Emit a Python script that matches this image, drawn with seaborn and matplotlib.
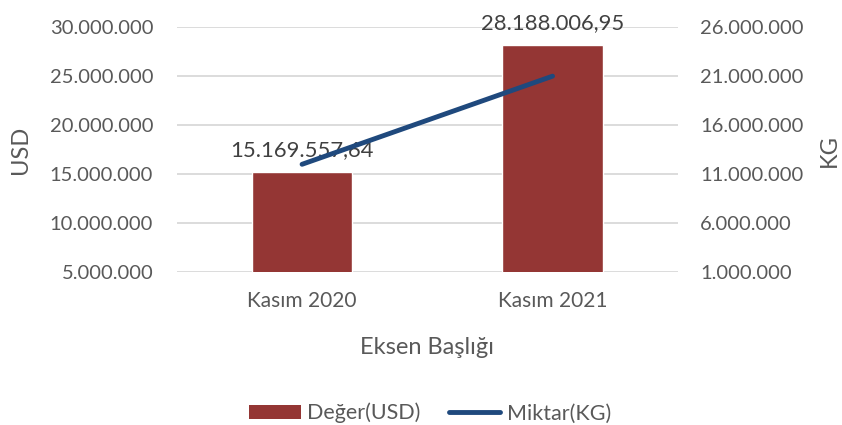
import numpy as np
import pandas as pd
import matplotlib
matplotlib.use("Agg")
import matplotlib.pyplot as plt
import seaborn as sns
from matplotlib.ticker import FuncFormatter
from matplotlib.patches import Patch
from matplotlib.lines import Line2D

# --- Data ---
categories = ['Kasım 2020', 'Kasım 2021']
usd_values = [15169557.64, 28188006.95]
kg_values = [12000000, 21000000]
usd_labels = ['15.169.557,64', '28.188.006,95']
usd_ticks = [5000000, 10000000, 15000000, 20000000, 25000000, 30000000]
kg_ticks = [1000000, 6000000, 11000000, 16000000, 21000000, 26000000]

BAR_COLOR = '#943634'
LINE_COLOR = '#1F497D'
TEXT_COLOR = '#595959'
GRID_COLOR = '#D9D9D9'

sns.set_theme(style='white')
plt.rcParams['font.family'] = ['Lato', 'DejaVu Sans']


def tr_fmt(v, pos=None):
    return f"{v:,.0f}".replace(',', '.')


df = pd.DataFrame({'Ay': categories, 'USD': usd_values, 'KG': kg_values})

fig = plt.figure(figsize=(8.42, 4.25), dpi=100)
ax = fig.add_axes([0.210, 0.36, 0.595, 0.576])

sns.barplot(data=df, x='Ay', y='USD', color=BAR_COLOR, saturation=1,
            width=0.4, ax=ax, zorder=2)
ax.set_ylim(usd_ticks[0], usd_ticks[-1])
ax.set_yticks(usd_ticks)
ax.yaxis.set_major_formatter(FuncFormatter(tr_fmt))
ax.set_xlim(-0.5, 1.5)
ax.grid(axis='y', color=GRID_COLOR, linewidth=1.3, zorder=0)
ax.set_axisbelow(True)
for s in ax.spines.values():
    s.set_visible(False)
ax.tick_params(axis='y', length=0, labelsize=14.5, labelcolor=TEXT_COLOR, pad=17)
ax.tick_params(axis='x', length=0, labelsize=15, labelcolor=TEXT_COLOR, pad=14)
ax.set_ylabel('USD', fontsize=17, color=TEXT_COLOR)
ax.yaxis.set_label_coords(-0.313, 0.498)
ax.yaxis.label.set_va('center')
ax.set_xlabel('Eksen Başlığı', fontsize=17, color=TEXT_COLOR)
ax.xaxis.set_label_coords(0.5, -0.31)
ax.xaxis.label.set_va('center')

for i, (v, lab) in enumerate(zip(usd_values, usd_labels)):
    ax.annotate(lab, (i, v), xytext=(0, 11.5), textcoords='offset points',
                ha='center', va='baseline', fontsize=15.8, color='#404040')

ax2 = ax.twinx()
sns.lineplot(x=np.arange(len(categories)), y=kg_values, color=LINE_COLOR,
             linewidth=3.5, solid_capstyle='round', ax=ax2, zorder=3)
ax2.set_ylim(kg_ticks[0], kg_ticks[-1])
ax2.set_yticks(kg_ticks)
ax2.yaxis.set_major_formatter(FuncFormatter(tr_fmt))
for s in ax2.spines.values():
    s.set_visible(False)
ax2.tick_params(axis='y', length=0, labelsize=14.5, labelcolor=TEXT_COLOR, pad=16)
ax2.set_ylabel('KG', fontsize=17, color=TEXT_COLOR, rotation=90)
ax2.yaxis.set_label_coords(1.303, 0.498)
ax2.yaxis.label.set_va('center')
ax2.grid(False)

handles = [Patch(facecolor=BAR_COLOR, edgecolor='none'),
           Line2D([0], [0], color=LINE_COLOR, linewidth=3.5, solid_capstyle='round')]
fig.legend(handles, ['Değer(USD)', 'Miktar(KG)'], loc='center',
           bbox_to_anchor=(0.511, 0.028), ncol=2, frameon=False, fontsize=15.5,
           labelcolor=TEXT_COLOR, handlelength=2.4, handleheight=0.6,
           handletextpad=0.3, columnspacing=1.3)

fig.savefig('out.png', dpi=100)
